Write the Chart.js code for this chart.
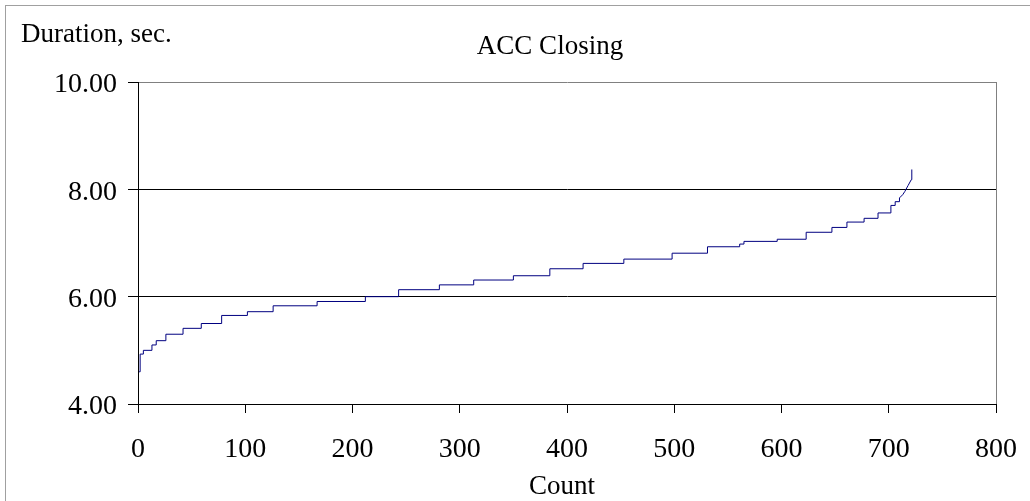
<!DOCTYPE html>
<html>
<head>
<meta charset="utf-8">
<script src="https://cdn.jsdelivr.net/npm/chart.js@4.4.1/dist/chart.umd.min.js"></script>
<style>
  html, body { margin: 0; padding: 0; background: #ffffff; }
  #wrap { position: relative; width: 1030px; height: 501px; }
  canvas { display: block; }
</style>
</head>
<body>
<div id="wrap"><canvas id="c" width="1030" height="501"></canvas></div>
<script>
// Step breakpoints: count at which each duration level starts
const stepCounts = [1, 2, 5, 13, 17, 26, 42, 59, 78, 102, 126, 167, 212, 243, 281, 313, 350, 384, 415, 453, 498, 531, 561, 565, 596, 623, 647, 661, 677, 690, 702, 706, 710];
const stepDurations = [4.60, 4.93, 5.00, 5.10, 5.18, 5.30, 5.41, 5.50, 5.65, 5.72, 5.83, 5.91, 6.00, 6.13, 6.22, 6.31, 6.39, 6.52, 6.62, 6.70, 6.81, 6.93, 6.98, 7.03, 7.07, 7.20, 7.29, 7.39, 7.46, 7.56, 7.70, 7.77, 7.84];
// Rising tail at the end of the curve
const tailCounts = [710, 713, 715, 718, 721, 721.5];
const tailDurations = [7.84, 7.90, 7.96, 8.07, 8.18, 8.37];
// Axis ticks
const yTicks = [4, 6, 8, 10];
const xTicks = [0, 100, 200, 300, 400, 500, 600, 700, 800];

const chartTitle = 'ACC Closing';
const yTitle = 'Duration, sec.';
const xTitle = 'Count';

const FONT = '"Liberation Serif", "Times New Roman", serif';
const LINE = '#000080';

const toPts = (xs, ys) => xs.map((x, i) => ({ x: x, y: ys[i] }));

const decor = {
  id: 'decor',
  beforeDraw(chart) {
    const ctx = chart.ctx;
    ctx.save();
    ctx.fillStyle = '#ffffff';
    ctx.fillRect(0, 0, chart.width, chart.height);
    ctx.strokeStyle = '#a0a0a0';
    ctx.lineWidth = 1;
    ctx.strokeRect(5.5, 5.5, 1200, 700);
    ctx.restore();
  },
  afterDraw(chart) {
    const ctx = chart.ctx;
    const a = chart.chartArea;
    ctx.save();
    ctx.strokeStyle = '#808080';
    ctx.lineWidth = 1;
    ctx.beginPath();
    ctx.moveTo(Math.round(a.right) + 0.5, a.top);
    ctx.lineTo(Math.round(a.right) + 0.5, a.bottom);
    ctx.stroke();
    ctx.fillStyle = '#000000';
    ctx.font = '27px ' + FONT;
    ctx.textBaseline = 'alphabetic';
    ctx.textAlign = 'left';
    ctx.fillText(yTitle, 21, 42);
    ctx.textAlign = 'center';
    ctx.fillText(chartTitle, 550, 54);
    ctx.fillText(xTitle, 562, 494);
    ctx.restore();
  }
};

new Chart(document.getElementById('c'), {
  type: 'scatter',
  data: {
    datasets: [
      {
        data: toPts(stepCounts, stepDurations),
        showLine: true,
        stepped: true,
        borderColor: LINE,
        borderWidth: 1,
        pointRadius: 0,
        fill: false
      },
      {
        data: toPts(tailCounts, tailDurations),
        showLine: true,
        borderColor: LINE,
        borderWidth: 1,
        pointRadius: 0,
        tension: 0,
        fill: false
      }
    ]
  },
  options: {
    responsive: false,
    animation: false,
    events: [],
    layout: { padding: { left: 0, right: 34, top: 82, bottom: 0 } },
    plugins: { legend: { display: false }, tooltip: { enabled: false }, title: { display: false } },
    scales: {
      x: {
        type: 'linear',
        min: 0, max: 800,
        afterBuildTicks(s) { s.ticks = xTicks.map(v => ({ value: v })); },
        afterFit(s) { s.height = 97; s.paddingLeft = 0; s.paddingRight = 0; },
        border: { color: '#000000', width: 1 },
        grid: { display: true, drawOnChartArea: false, drawTicks: true, tickLength: 9, color: '#000000' },
        ticks: { color: '#000000', font: { family: FONT, size: 28 }, padding: 20, maxRotation: 0, callback: v => String(v) }
      },
      y: {
        type: 'linear',
        min: 4, max: 10,
        afterBuildTicks(s) { s.ticks = yTicks.map(v => ({ value: v })); },
        afterFit(s) { s.width = 138; s.paddingTop = 0; s.paddingBottom = 0; },
        border: { color: '#000000', width: 1 },
        grid: {
          drawOnChartArea: true, drawTicks: true, tickLength: 10,
          color: c => (c.tick && c.tick.value === 10) ? '#808080' : '#000000',
          tickColor: '#000000'
        },
        ticks: { color: '#000000', font: { family: FONT, size: 28 }, padding: 11, labelOffset: 3, callback: v => Number(v).toFixed(2) }
      }
    }
  },
  plugins: [decor]
});
</script>
</body>
</html>
